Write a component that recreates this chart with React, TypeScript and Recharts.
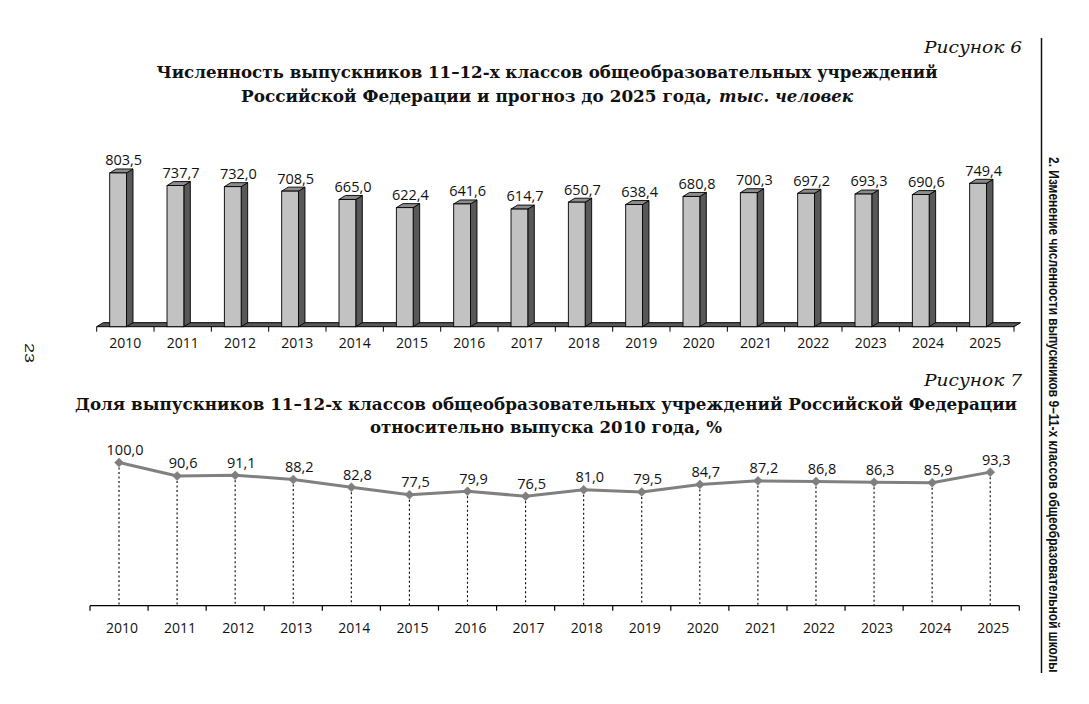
import React from 'react';
import { BarChart, Bar, XAxis, YAxis, ReferenceArea, LabelList, ComposedChart, Line } from 'recharts';

const years = ['2010', '2011', '2012', '2013', '2014', '2015', '2016', '2017', '2018', '2019', '2020', '2021', '2022', '2023', '2024', '2025'];
const graduates = [803.5, 737.7, 732.0, 708.5, 665.0, 622.4, 641.6, 614.7, 650.7, 638.4, 680.8, 700.3, 697.2, 693.3, 690.6, 749.4];
const sharePct = [100.0, 90.6, 91.1, 88.2, 82.8, 77.5, 79.9, 76.5, 81.0, 79.5, 84.7, 87.2, 86.8, 86.3, 85.9, 93.3];

const barData = years.map((year, i) => ({ year, value: graduates[i] }));
const lineData = years.map((year, i) => ({ year, share: sharePct[i] }));

const fmt = (v: number) => Number(v).toFixed(1).replace('.', ',');
const NUM_FONT = '"Open Sans", "Noto Sans", sans-serif';
const SERIF = '"DejaVu Serif", "Liberation Serif", serif';

const W = 1089;
const TOP_H = 360;
const TOP_MARGIN = { top: 154.5, right: 75, bottom: 0, left: 96.7 };
const TOP_AXIS_H = 33.3;
const topStep = (W - TOP_MARGIN.left - TOP_MARGIN.right) / years.length;

const BOT_TOP = 400;
const BOT_H = 250;
const BOT_MARGIN = { top: 33.9, right: 69.7, bottom: 0, left: 90 };
const BOT_AXIS_H = 44.3;
const botStep = (W - BOT_MARGIN.left - BOT_MARGIN.right) / years.length;

const Bar3D = (props: any) => {
  const { x, y, width, height } = props;
  if (height == null || isNaN(height)) return null;
  const fx = x - 7;
  const fw = 16.8;
  const dx = 6.5;
  const dy = 4;
  const bottom = y + height;
  return (
    <g>
      <polygon
        points={`${fx + fw},${y} ${fx + fw + dx},${y - dy} ${fx + fw + dx},${bottom - dy} ${fx + fw},${bottom}`}
        fill="#585858"
        stroke="#000"
        strokeWidth={0.9}
      />
      <polygon
        points={`${fx},${y} ${fx + dx},${y - dy} ${fx + fw + dx},${y - dy} ${fx + fw},${y}`}
        fill="#8c8c8c"
        stroke="#000"
        strokeWidth={0.9}
      />
      <rect x={fx} y={y} width={fw} height={height} fill="#c2c2c2" stroke="#000" strokeWidth={0.9} />
    </g>
  );
};

const Floor = (props: any) => {
  const { x, y, width, height } = props;
  const dx = 6.5;
  return (
    <polygon
      points={`${x},${y + height} ${x + dx},${y} ${x + width + dx},${y} ${x + width},${y + height}`}
      fill="#585858"
      stroke="#000"
      strokeWidth={1}
    />
  );
};

const TopTick = (props: any) => {
  const { x, y, payload, index, visibleTicksCount } = props;
  const half = topStep / 2;
  return (
    <g>
      <line x1={x - half} x2={x - half} y1={y} y2={y + 5} stroke="#000" strokeWidth={1} />
      {index === visibleTicksCount - 1 && (
        <line x1={x + half} x2={x + half} y1={y} y2={y + 5} stroke="#000" strokeWidth={1} />
      )}
      <text x={x} y={y + 21.6} textAnchor="middle" fontFamily={NUM_FONT} fontSize={14} fill="#111">
        {payload.value}
      </text>
    </g>
  );
};

const BotTick = (props: any) => {
  const { x, y, payload, index, visibleTicksCount } = props;
  const half = botStep / 2;
  return (
    <g>
      <line x1={x - half} x2={x - half} y1={y} y2={y + 5} stroke="#000" strokeWidth={1.2} />
      {index === visibleTicksCount - 1 && (
        <line x1={x + half} x2={x + half} y1={y} y2={y + 5} stroke="#000" strokeWidth={1.2} />
      )}
      <text x={x + 3} y={y + 27.6} textAnchor="middle" fontFamily={NUM_FONT} fontSize={14} fill="#111">
        {payload.value}
      </text>
    </g>
  );
};

const BarValueLabel = (props: any) => {
  const { x, y, width, value } = props;
  return (
    <text x={x + width / 2 - 1.5} y={y - 7.6} textAnchor="middle" fontFamily={NUM_FONT} fontSize={14.5} fill="#111">
      {fmt(value)}
    </text>
  );
};

const LineValueLabel = (props: any) => {
  const { x, y, value } = props;
  return (
    <text x={x + 6} y={y - 7.5} textAnchor="middle" fontFamily={NUM_FONT} fontSize={14.5} fill="#111">
      {fmt(value)}
    </text>
  );
};

const DropLine = (props: any) => {
  const { x, y, width, height } = props;
  if (height == null || isNaN(height)) return null;
  const cx = x + width / 2;
  return (
    <line x1={cx} x2={cx} y1={y + 5} y2={y + height} stroke="#000" strokeWidth={1.1} strokeDasharray="2 2.5" />
  );
};

const Diamond = (props: any) => {
  const { cx, cy, index } = props;
  const r = 4.5;
  return (
    <polygon
      key={`d-${index}`}
      points={`${cx},${cy - r} ${cx + r},${cy} ${cx},${cy + r} ${cx - r},${cy}`}
      fill="#7f7f7f"
      stroke="#7f7f7f"
      strokeWidth={0.5}
    />
  );
};

export default function App() {
  return (
    <div
      style={{
        position: 'absolute',
        left: 0,
        top: 0,
        width: W,
        height: 704,
        background: '#fff',
        overflow: 'hidden',
      }}
    >
      <div style={{ position: 'absolute', left: 0, top: 0 }}>
        <BarChart width={W} height={TOP_H} data={barData} margin={TOP_MARGIN}>
          <XAxis
            dataKey="year"
            height={TOP_AXIS_H}
            axisLine={false}
            tickLine={false}
            tickSize={0}
            tickMargin={0}
            interval={0}
            tick={<TopTick />}
          />
          <YAxis hide domain={[0, 900]} />
          <ReferenceArea y1={0} y2={21} shape={<Floor />} ifOverflow="visible" />
          <Bar dataKey="value" barSize={17} shape={<Bar3D />} isAnimationActive={false}>
            <LabelList dataKey="value" content={<BarValueLabel />} />
          </Bar>
        </BarChart>
      </div>

      <div style={{ position: 'absolute', left: 0, top: BOT_TOP }}>
        <ComposedChart width={W} height={BOT_H} data={lineData} margin={BOT_MARGIN}>
          <XAxis
            dataKey="year"
            height={BOT_AXIS_H}
            axisLine={{ stroke: '#000', strokeWidth: 1.3 }}
            tickLine={false}
            tickSize={0}
            tickMargin={0}
            interval={0}
            tick={<BotTick />}
          />
          <YAxis hide domain={[0, 120]} />
          <Bar dataKey="share" barSize={2} shape={<DropLine />} isAnimationActive={false} />
          <Line
            dataKey="share"
            stroke="#808080"
            strokeWidth={3}
            dot={<Diamond />}
            activeDot={false}
            isAnimationActive={false}
          >
            <LabelList dataKey="share" content={<LineValueLabel />} />
          </Line>
        </ComposedChart>
      </div>

      <svg
        width={W}
        height={704}
        style={{ position: 'absolute', left: 0, top: 0, pointerEvents: 'none' }}
      >
        <text x={1022} y={53} textAnchor="end" fontFamily={SERIF} fontStyle="italic" fontSize={17} fill="#111" textLength={98} lengthAdjust="spacingAndGlyphs">
          Рисунок 6
        </text>
        <text x={547} y={78} textAnchor="middle" fontFamily={SERIF} fontWeight="bold" fontSize={17.5} fill="#111" textLength={781} lengthAdjust="spacingAndGlyphs">
          Численность выпускников 11–12-х классов общеобразовательных учреждений
        </text>
        <text x={241} y={102} textAnchor="start" fontFamily={SERIF} fontWeight="bold" fontSize={17.5} fill="#111" textLength={471} lengthAdjust="spacingAndGlyphs">
          Российской Федерации и прогноз до 2025 года,
        </text>
        <text x={853} y={102} textAnchor="end" fontFamily={SERIF} fontStyle="italic" fontWeight="bold" fontSize={17.5} fill="#111" textLength={134} lengthAdjust="spacingAndGlyphs">
          тыс. человек
        </text>

        <text x={1022} y={386} textAnchor="end" fontFamily={SERIF} fontStyle="italic" fontSize={17} fill="#111" textLength={98} lengthAdjust="spacingAndGlyphs">
          Рисунок 7
        </text>
        <text x={546} y={410} textAnchor="middle" fontFamily={SERIF} fontWeight="bold" fontSize={17.5} fill="#111" textLength={942} lengthAdjust="spacingAndGlyphs">
          Доля выпускников 11–12-х классов общеобразовательных учреждений Российской Федерации
        </text>
        <text x={370} y={433} textAnchor="start" fontFamily={SERIF} fontWeight="bold" fontSize={17.5} fill="#111" textLength={352} lengthAdjust="spacingAndGlyphs">
          относительно выпуска 2010 года, %
        </text>

        <line x1={1041.5} x2={1041.5} y1={38} y2={673} stroke="#111" strokeWidth={1.5} />
        <text
          x={29}
          y={343}
          style={{ writingMode: 'vertical-rl' }}
          fontFamily='"Liberation Sans", sans-serif'
          fontSize={13}
          fill="#111"
          textLength={20}
          lengthAdjust="spacingAndGlyphs"
        >
          23
        </text>
      </svg>

      <div
        style={{
          position: 'absolute',
          left: 1046,
          top: 157,
          writingMode: 'vertical-rl',
          whiteSpace: 'nowrap',
          fontFamily: '"Liberation Sans", sans-serif',
          fontWeight: 'bold',
          fontSize: 14.5,
          lineHeight: '16px',
          color: '#111',
          transform: 'scaleY(0.825)',
          transformOrigin: 'top left',
        }}
      >
        2. Изменение численности выпускников 9–11-х классов общеобразовательной школы
      </div>
    </div>
  );
}
